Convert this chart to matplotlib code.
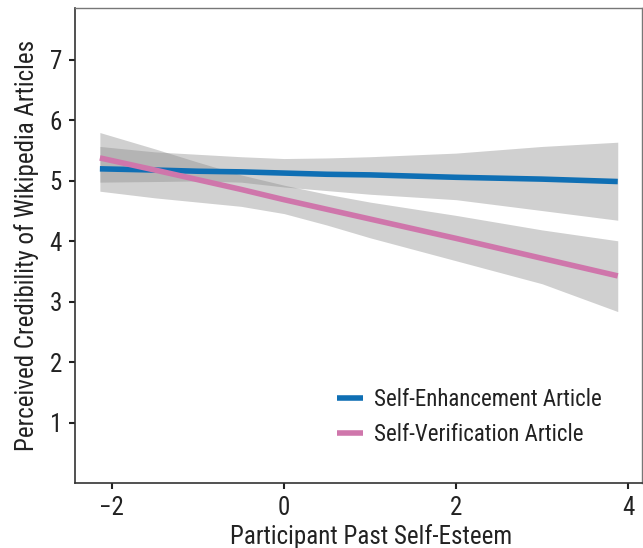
import matplotlib
matplotlib.use("Agg")
import matplotlib.pyplot as plt
from matplotlib import font_manager

# ── Data ────────────────────────────────────────────────────────────

x_vals = [-2.14, -1.5, -1.0, -0.5, 0.0, 0.5, 1.0, 2.0, 3.0, 3.88]

enh_line = [5.20, 5.18, 5.16, 5.15, 5.13, 5.11, 5.10, 5.06, 5.03, 4.99]
enh_upper = [5.57, 5.48, 5.44, 5.40, 5.37, 5.38, 5.40, 5.46, 5.57, 5.64]
enh_lower = [4.98, 4.99, 5.00, 4.98, 4.90, 4.84, 4.78, 4.69, 4.51, 4.35]

ver_line = [5.38, 5.18, 5.02, 4.86, 4.69, 4.53, 4.37, 4.05, 3.72, 3.43]
ver_upper = [5.80, 5.53, 5.31, 5.10, 4.93, 4.78, 4.65, 4.43, 4.19, 4.01]
ver_lower = [4.83, 4.72, 4.65, 4.58, 4.46, 4.27, 4.06, 3.68, 3.30, 2.84]

labels = ["Self-Enhancement Article", "Self-Verification Article"]
x_ticks = [-2, 0, 2, 4]
x_tick_labels = ["\u22122", "0", "2", "4"]
y_ticks = [1, 2, 3, 4, 5, 6, 7]

BLUE = "#0f6fb4"
PINK = "#cf76ab"
BAND = "#8a8a8a"

installed = {f.name for f in font_manager.fontManager.ttflist}
family = [f for f in ["Liberation Sans Narrow", "Roboto Condensed",
                      "Liberation Sans"] if f in installed] + ["DejaVu Sans"]
plt.rcParams["font.family"] = family

fig = plt.figure(figsize=(6.43, 5.48), dpi=100)
ax = fig.add_axes([0.116, 0.118, 0.883, 0.8675])

ax.fill_between(x_vals, enh_lower, enh_upper, color=BAND, alpha=0.4,
                linewidth=0)
ax.plot(x_vals, enh_line, color=BLUE, linewidth=4, label=labels[0],
        solid_capstyle="butt")
ax.fill_between(x_vals, ver_lower, ver_upper, color=BAND, alpha=0.4,
                linewidth=0)
ax.plot(x_vals, ver_line, color=PINK, linewidth=4, label=labels[1],
        solid_capstyle="butt")

ax.set_xlim(-2.434, 4.166)
ax.set_ylim(0, 7.86)
ax.set_xticks(x_ticks)
ax.set_xticklabels(x_tick_labels)
ax.set_yticks(y_ticks)

for side in ["left", "bottom"]:
    ax.spines[side].set_color("#333333")
    ax.spines[side].set_linewidth(1.2)
for side in ["top", "right"]:
    ax.spines[side].set_color("#777777")
    ax.spines[side].set_linewidth(1.0)

ax.tick_params(axis="both", direction="out", length=4, width=1.5,
               color="#222222", labelsize=18, labelcolor="#222222", pad=5)

ax.set_xlabel("Participant Past Self-Esteem", fontsize=18,
              color="#222222", labelpad=3, x=0.523)
ax.set_ylabel("Perceived Credibility of Wikipedia Articles", fontsize=18,
              color="#222222", labelpad=8)

ax.legend(loc="lower right", bbox_to_anchor=(0.964, 0.036), frameon=False,
          fontsize=16.5, handlelength=1.15, handletextpad=0.45,
          labelspacing=0.5, labelcolor="#222222")

fig.savefig("out.png", dpi=100)
plt.close(fig)
